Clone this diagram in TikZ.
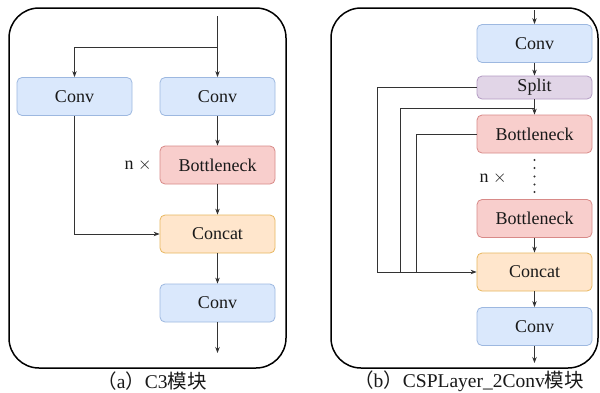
\documentclass[tikz,border=0pt]{standalone}
\usepackage{fontspec}
\setmainfont{Liberation Serif}
\newfontfamily\cjk{Noto Sans CJK SC}
\usetikzlibrary{arrows.meta}
\definecolor{convfill}{HTML}{DAE8FC}\definecolor{convline}{HTML}{9DB8E0}
\definecolor{botfill}{HTML}{F8CECC}\definecolor{botline}{HTML}{D88A88}
\definecolor{catfill}{HTML}{FFE6CC}\definecolor{catline}{HTML}{E8B860}
\definecolor{splfill}{HTML}{E1D5E7}\definecolor{splline}{HTML}{B49CC4}
\definecolor{wire}{HTML}{333333}
\tikzset{
  blk/.style={rectangle, rounded corners=5pt, minimum width=115pt, minimum height=38pt,
              inner sep=0pt, font=\fontsize{18}{21}\selectfont, text=black!90, line width=0.8pt},
  convbox/.style={blk, fill=convfill, draw=convline},
  botbox/.style={blk, fill=botfill, draw=botline},
  catbox/.style={blk, fill=catfill, draw=catline},
  splbox/.style={blk, fill=splfill, draw=splline, minimum height=23pt},
  flow/.style={draw=wire, line width=0.8pt, -{Stealth[length=6pt,width=4.5pt]}},
  wireline/.style={draw=wire, line width=0.8pt},
  frame/.style={draw=black, line width=1.5pt, rounded corners=30pt},
  lbl/.style={font=\fontsize{18}{21}\selectfont, text=black!90},
  captxt/.style={font=\fontsize{19.5}{22}\selectfont, text=black!90, inner sep=0pt}
}
\begin{document}
\begin{tikzpicture}[x=1pt,y=-1pt]
\useasboundingbox (0,0) rectangle (600,392);
\fill[white] (0,0) rectangle (600,392);

% ---------- C3 block ----------
\draw[frame] (9,8) rectangle (286,368);
\node[convbox] (c1) at (74.5,96.5) {Conv};
\node[convbox] (c2) at (217.5,96.5) {Conv};
\node[botbox]  (b1) at (217.5,165) {Bottleneck};
\node[catbox]  (k1) at (217.5,234) {Concat};
\node[convbox] (c3) at (217.5,303) {Conv};
\node[lbl, anchor=east] (n1) at (155,165) {n $\times$};
\coordinate (in1) at (217.5,16);
\coordinate (br1) at (217.5,47);
\coordinate (out1) at (217.5,353);
\draw[flow] (in1) -- (c2.north);
\draw[flow] (br1) -| (c1.north);
\draw[flow] (c2.south) -- (b1.north);
\draw[flow] (b1.south) -- (k1.north);
\draw[flow] (c1.south) |- (k1.west);
\draw[flow] (k1.south) -- (c3.north);
\draw[flow] (c3.south) -- (out1);
\node[captxt] (capA) at (152,381) {{\cjk （}a{\cjk ）}C3{\cjk 模块}};

% ---------- CSPLayer_2Conv block ----------
\draw[frame] (331,8) rectangle (598,368);
\node[convbox] (r1) at (534.5,43.5) {Conv};
\node[splbox]  (sp) at (534.5,87.5) {Split};
\node[botbox]  (rb1) at (534.5,134) {Bottleneck};
\node[botbox]  (rb2) at (534.5,218.5) {Bottleneck};
\node[catbox]  (rk) at (534.5,272) {Concat};
\node[convbox] (r2) at (534.5,326.5) {Conv};
\node[lbl, anchor=east] (n2) at (510,178) {n $\times$};
\coordinate (in2) at (534.5,10);
\coordinate (out2) at (534.5,363);
\coordinate (j1) at (534.5,108);
\coordinate (x1) at (377,87.5);
\coordinate (x2) at (400,108);
\coordinate (x3) at (416,134);
\draw[flow] (in2) -- (r1.north);
\draw[flow] (r1.south) -- (sp.north);
\draw[flow] (sp.south) -- (rb1.north);
\draw[wireline] (sp.west) -- (x1);
\draw[flow] (x1) |- (rk.west);
\draw[wireline] (j1) -- (x2) -- (x2 |- rk.west);
\draw[wireline] (rb1.west) -- (x3) -- (x3 |- rk.west);
\foreach \yy in {160,168,176.5,184.5,192}
  \fill[wire] (534.5,\yy) circle (1.2pt);
\draw[flow] (rb2.south) -- (rk.north);
\draw[flow] (rk.south) -- (r2.north);
\draw[flow] (r2.south) -- (out2);
\node[captxt] (capB) at (469,381) {{\cjk （}b{\cjk ）}CSPLayer\_2Conv{\cjk 模块}};
\end{tikzpicture}
\end{document}
